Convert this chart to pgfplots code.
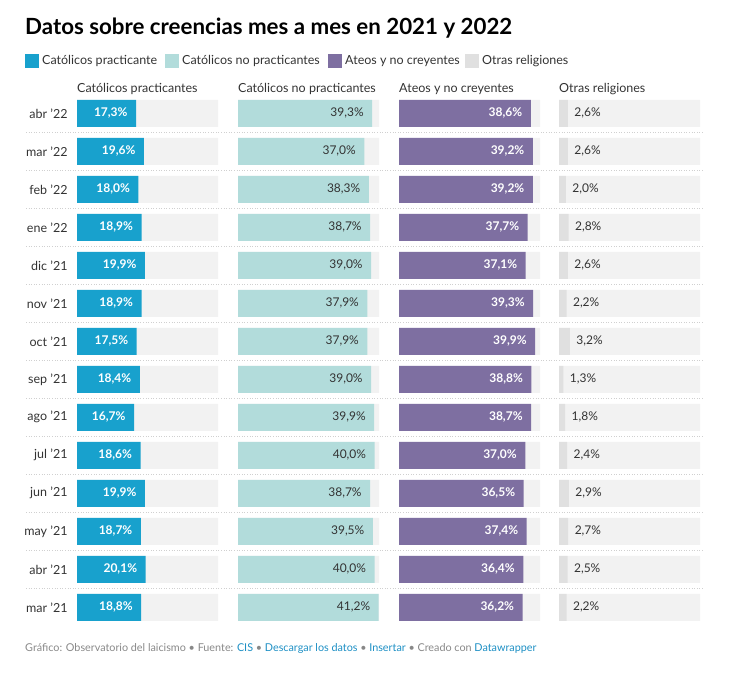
\documentclass[border=0pt]{standalone}
\usepackage{fontspec}
\setmainfont{Lato}
\usepackage{pgfplots}
\usepackage{pgfplotstable}
\pgfplotsset{compat=1.18}
\definecolor{cA}{HTML}{18A1CD}
\definecolor{cB}{HTML}{B2DCDB}
\definecolor{cC}{HTML}{7E6FA1}
\definecolor{cD}{HTML}{E0E0E0}
\definecolor{bgc}{HTML}{F2F2F2}
\definecolor{txt}{HTML}{333333}
\definecolor{foot}{HTML}{888888}
\definecolor{link}{HTML}{1D8FC4}
\definecolor{sep}{HTML}{D0D0D0}

\pgfplotstableread{
row p1 p2 p3 p4 bg
0 17.3 39.3 38.6 2.6 41.3
1 19.6 37.0 39.2 2.6 41.3
2 18.0 38.3 39.2 2.0 41.3
3 18.9 38.7 37.7 2.8 41.3
4 19.9 39.0 37.1 2.6 41.3
5 18.9 37.9 39.3 2.2 41.3
6 17.5 37.9 39.9 3.2 41.3
7 18.4 39.0 38.8 1.3 41.3
8 16.7 39.9 38.7 1.8 41.3
9 18.6 40.0 37.0 2.4 41.3
10 19.9 38.7 36.5 2.9 41.3
11 18.7 39.5 37.4 2.7 41.3
12 20.1 40.0 36.4 2.5 41.3
13 18.8 41.2 36.2 2.2 41.3
}\data

\pgfplotsset{
  panel/.style={
    scale only axis, width=141pt, height=532pt,
    xmin=0, xmax=41.3, ymin=-0.5, ymax=13.5, y dir=reverse,
    xbar, bar width=27pt, bar shift=0pt, anchor=north west,
    clip=false,
  },
  lab/.style={
    point meta=x,
    nodes near coords={\pgfmathprintnumber[fixed,fixed zerofill,precision=1,use comma,assume math mode=true]{\pgfplotspointmeta}\%},
  },
}

\begin{document}
\begin{tikzpicture}
\useasboundingbox (0,0) rectangle (736pt,-686pt);

% title
\node[anchor=base west, inner sep=0pt, text=black] at (25pt,-34pt)
  {\fontsize{22.3}{26}\selectfont\bfseries Datos sobre creencias mes a mes en 2021 y 2022};

% legend
\begin{scope}[every node/.style={anchor=base west, inner sep=0pt, text=txt, font=\fontsize{12.5}{14}\selectfont}]
\fill[cA] (25pt,-54pt) rectangle (39pt,-68pt);
\node at (42pt,-64pt) {Católicos practicante};
\fill[cB] (165pt,-54pt) rectangle (179pt,-68pt);
\node at (182pt,-64pt) {Católicos no practicantes};
\fill[cC] (328pt,-54pt) rectangle (342pt,-68pt);
\node at (345pt,-64pt) {Ateos y no creyentes};
\fill[cD] (465pt,-54pt) rectangle (479pt,-68pt);
\node at (482pt,-64pt) {Otras religiones};
% headers
\node at (77pt,-92pt) {Católicos practicantes};
\node at (238pt,-92pt) {Católicos no practicantes};
\node at (399pt,-92pt) {Ateos y no creyentes};
\node at (559pt,-92pt) {Otras religiones};
\end{scope}

% separators
\foreach \k in {0,...,12} {
  \draw[sep, line width=0.8pt, dash pattern=on 0.8pt off 1.8pt]
    (26pt,{-(132.3+38*\k)*1pt}) -- (704pt,{-(132.3+38*\k)*1pt});
}

% panel 1
\begin{axis}[panel, at={(77pt,-94.3pt)},
  axis line style={draw=none}, tick style={draw=none}, xtick=\empty,
  ytick={0,...,13},
  yticklabels={abr '22,mar '22,feb '22,ene '22,dic '21,nov '21,oct '21,sep '21,ago '21,jul '21,jun '21,may '21,abr '21,mar '21},
  yticklabel style={font=\fontsize{12.5}{14}\selectfont, text=txt, anchor=east, inner sep=0pt, xshift=-5pt},
]
\addplot[fill=bgc, draw=none, bar shift=0pt] table[x=bg, y=row]{\data};
\addplot[fill=cA, draw=none, bar shift=0pt, lab,
  every node near coord/.append style={anchor=east, xshift=-5pt, text=white, font=\fontsize{12}{14}\selectfont\bfseries}]
  table[x=p1, y=row]{\data};
\end{axis}

% panel 2
\begin{axis}[panel, hide axis, at={(238pt,-94.3pt)}]
\addplot[fill=bgc, draw=none, bar shift=0pt] table[x=bg, y=row]{\data};
\addplot[fill=cB, draw=none, bar shift=0pt, lab,
  every node near coord/.append style={anchor=east, xshift=-5pt, text=txt, font=\fontsize{12}{14}\selectfont}]
  table[x=p2, y=row]{\data};
\end{axis}

% panel 3
\begin{axis}[panel, hide axis, at={(399pt,-94.3pt)}]
\addplot[fill=bgc, draw=none, bar shift=0pt] table[x=bg, y=row]{\data};
\addplot[fill=cC, draw=none, bar shift=0pt, lab,
  every node near coord/.append style={anchor=east, xshift=-5pt, text=white, font=\fontsize{12}{14}\selectfont\bfseries}]
  table[x=p3, y=row]{\data};
\end{axis}

% panel 4
\begin{axis}[panel, hide axis, at={(559pt,-94.3pt)}]
\addplot[fill=bgc, draw=none, bar shift=0pt] table[x=bg, y=row]{\data};
\addplot[fill=cD, draw=none, bar shift=0pt, lab,
  every node near coord/.append style={anchor=west, xshift=3pt, text=txt, font=\fontsize{12}{14}\selectfont}]
  table[x=p4, y=row]{\data};
\end{axis}

% footer
\node[anchor=base west, inner sep=0pt, text=foot, font=\fontsize{10.8}{13}\selectfont] at (25pt,-651pt)
  {Gráfico: Observatorio del laicismo • Fuente: \textcolor{link}{CIS} • \textcolor{link}{Descargar los datos} • \textcolor{link}{Insertar} • Creado con \textcolor{link}{Datawrapper}};
\end{tikzpicture}
\end{document}
